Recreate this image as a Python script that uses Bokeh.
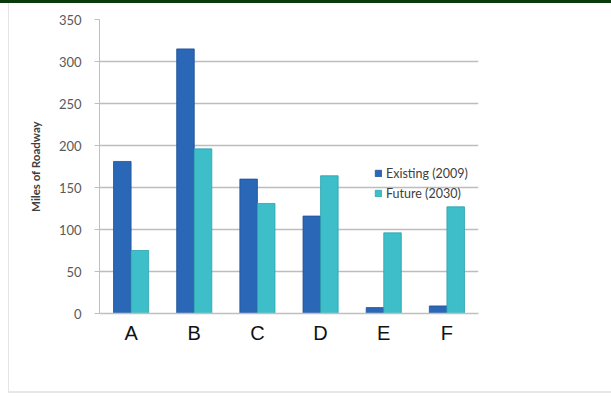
from bokeh.plotting import figure
from bokeh.models import (ColumnDataSource, Legend, LegendItem, Spacer, Range1d,
                          FactorRange)
from bokeh.transform import dodge
from bokeh.layouts import column
from bokeh.embed import file_html
from bokeh.resources import INLINE

categories = ["A", "B", "C", "D", "E", "F"]
existing_2009 = [181, 315, 160, 116, 7, 9]
future_2030 = [75, 196, 131, 164, 96, 127]
series_names = ["Existing (2009)", "Future (2030)"]
y_ticks = [0, 50, 100, 150, 200, 250, 300, 350]
row_label = "LOS"
better_label = "Better"
flow_title = "Traffic Flows"
worse_label = "Worse"

src = ColumnDataSource(dict(cat=categories, ex=existing_2009, fu=future_2030))

p = figure(width=603, height=390, x_range=FactorRange(*categories),
           y_range=Range1d(0, 350), output_backend="svg", toolbar_location=None,
           title=None,
           min_border_left=90, min_border_right=134, min_border_top=16,
           min_border_bottom=80)
p.margin = (0, 0, 0, 8)
p.styles = {"border-left": "1px solid #e4e4e4", "border-bottom": "2px solid #e8e8e8",
            "box-sizing": "border-box"}
p.outline_line_color = None
p.background_fill_color = "white"
p.border_fill_color = "white"

r1 = p.vbar(x=dodge("cat", -0.139, range=p.x_range), top="ex", width=0.278,
            source=src, fill_color="#2A67B6", line_color="#1F4F98", line_width=0.8)
r2 = p.vbar(x=dodge("cat", 0.139, range=p.x_range), top="fu", width=0.278,
            source=src, fill_color="#3DBEC9", line_color="#2AA3AF", line_width=0.8)

# y axis
p.yaxis.ticker = y_ticks
p.yaxis.axis_line_color = "#BFBFBF"
p.yaxis.major_tick_line_color = "#BFBFBF"
p.yaxis.major_tick_out = 5
p.yaxis.major_tick_in = 0
p.yaxis.minor_tick_line_color = None
p.yaxis.major_label_text_font = "Lato"
p.yaxis.major_label_text_font_size = "13px"
p.yaxis.major_label_text_color = "#595959"
p.yaxis.major_label_standoff = 13
p.yaxis.axis_label = "Miles of Roadway"
p.yaxis.axis_label_text_font = "Lato"
p.yaxis.axis_label_text_font_size = "11.5px"
p.yaxis.axis_label_text_font_style = "bold"
p.yaxis.axis_label_text_color = "#404040"
p.yaxis.axis_label_standoff = 14

# x axis: category letters, with "LOS" on the first row and the
# "Better / Traffic Flows / Worse" row as second lines of labels
nb = "\u00a0"
p.xaxis.major_label_overrides = {
    categories[0]: row_label + nb * 8 + "\u2009" + categories[0] + nb * 16
                   + "\n" + nb * 5 + better_label,
    categories[2]: categories[2] + "\n" + nb * 10 + flow_title,
    categories[5]: categories[5] + "\n" + worse_label + nb * 6,
}
p.xaxis.axis_line_color = "#BFBFBF"
p.xaxis.axis_line_width = 1.5
p.xaxis.major_tick_line_color = None
p.xaxis.major_tick_out = 0
p.xaxis.major_tick_in = 0
p.xaxis.minor_tick_line_color = None
p.xaxis.major_label_text_font = "Liberation Sans"
p.xaxis.major_label_text_font_size = "20px"
p.xaxis.major_label_text_line_height = 1.95
p.xaxis.major_label_text_color = "#111111"
p.xaxis.major_label_standoff = 8

p.xgrid.grid_line_color = None
p.ygrid.grid_line_color = "#BDBDBD"
p.ygrid.grid_line_width = 1.5

legend = Legend(items=[LegendItem(label=series_names[0], renderers=[r1]),
                       LegendItem(label=series_names[1], renderers=[r2])],
                location=(275, 112), orientation="vertical")
legend.padding = 0
legend.margin = 0
legend.spacing = 4
legend.glyph_width = 8
legend.glyph_height = 8
legend.label_height = 16
legend.label_standoff = 4
legend.label_text_font = "Lato"
legend.label_text_font_size = "12.5px"
legend.label_text_color = "#404040"
legend.border_line_color = None
legend.background_fill_alpha = 0
p.add_layout(legend, "center")

top = Spacer(width=611, height=3, background="#083A0C")
layout = column(top, p, spacing=0)

open("out.html", "w").write(file_html(layout, INLINE))
